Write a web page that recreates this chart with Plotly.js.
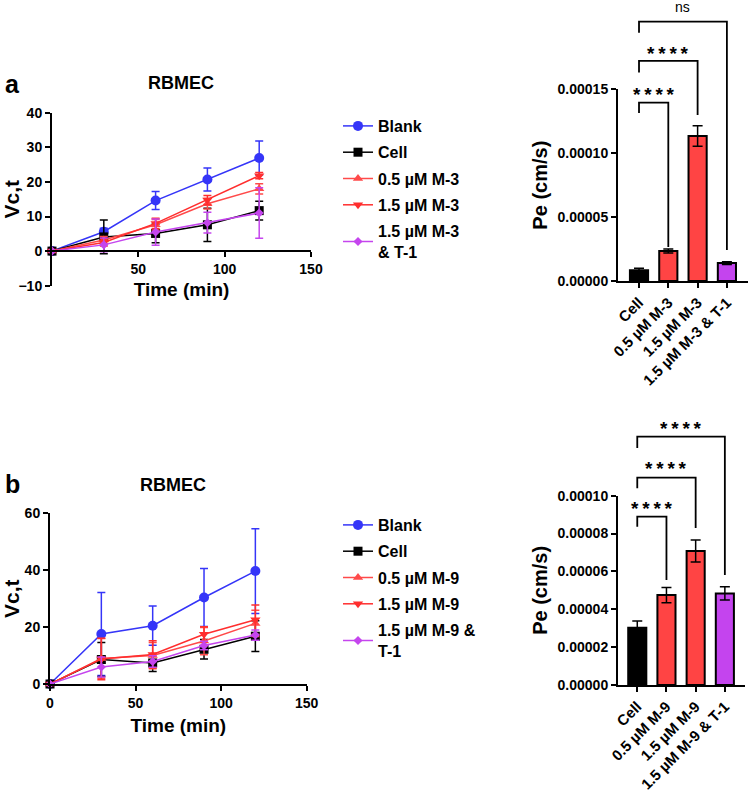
<!DOCTYPE html>
<html>
<head>
<meta charset="utf-8">
<script src="https://cdn.plot.ly/plotly-3.0.1.min.js"></script>
<style>html,body{margin:0;padding:0;background:#fff;}#chart{width:753px;height:796px;}</style>
</head>
<body>
<div id="chart"></div>
<script>
// ---------- data ----------
var time = [0, 30, 60, 90, 120];

// panel a (M-3)
var seriesNamesA = ['Blank', 'Cell', '0.5 µM M-3', '1.5 µM M-3', '1.5 µM M-3<br>& T-1'];
var blankA = [0, 5.6, 14.6, 20.7, 26.9];
var blankErrA = [0, 1.0, 2.6, 3.3, 4.9];
var cellA = [0, 4.1, 5.1, 7.6, 11.7];
var cellErrA = [0, 4.9, 2.7, 4.8, 2.7];
var m05A = [0, 3.2, 7.6, 13.7, 18.0];
var m05ErrA = [0, 1.0, 1.5, 1.5, 1.5];
var m15A = [0, 2.5, 8.0, 14.8, 21.8];
var m15ErrA = [0, 1.0, 1.5, 1.3, 0.9];
var t1A = [0, 1.8, 5.5, 8.2, 11.0];
var t1ErrA = [0, 2.0, 3.8, 3.0, 7.3];

// panel b (M-9)
var seriesNamesB = ['Blank', 'Cell', '0.5 µM M-9', '1.5 µM M-9', '1.5 µM M-9 &<br>T-1'];
var blankB = [0, 17.6, 20.5, 30.4, 39.7];
var blankErrB = [0, 14.6, 6.9, 10.2, 14.9];
var cellB = [0, 8.6, 7.4, 12.2, 16.8];
var cellErrB = [0, 6.0, 3.0, 3.4, 5.4];
var m05B = [0, 9.0, 10.0, 15.1, 21.3];
var m05ErrB = [0, 7.0, 4.6, 4.8, 4.6];
var m15B = [0, 8.8, 10.4, 17.5, 22.6];
var m15ErrB = [0, 7.3, 4.8, 2.6, 5.2];
var t1B = [0, 6.0, 7.9, 13.5, 17.2];
var t1ErrB = [0, 3.5, 2.0, 1.5, 1.8];

// bar charts
var barCatsA = ['Cell', '0.5 µM M-3', '1.5 µM M-3', '1.5 µM M-3 & T-1'];
var peA = [0.0000085, 0.0000235, 0.0001135, 0.0000140];
var peErrA = [0.0000015, 0.0000015, 0.0000080, 0.0000010];
var sigA = ['****', '****', 'ns'];

var barCatsB = ['Cell', '0.5 µM M-9', '1.5 µM M-9', '1.5 µM M-9 & T-1'];
var peB = [0.0000303, 0.0000475, 0.0000708, 0.0000484];
var peErrB = [0.0000035, 0.0000040, 0.0000058, 0.0000035];
var sigB = ['****', '****', '****'];

var ticksA_y = [0, 0.00005, 0.00010, 0.00015];
var ticksB_y = [0, 0.00002, 0.00004, 0.00006, 0.00008, 0.00010];

// ---------- styles ----------
var FONT = 'Liberation Sans, Arial, Helvetica, sans-serif';
var BLUE = '#3535f8', BLACK = '#000000', RED1 = '#ff4a4a', RED2 = '#ff2e2e', PURPLE = '#c545ee';
var lineColors = [BLUE, BLACK, RED1, RED2, PURPLE];
var symbols = ['circle', 'square', 'triangle-up', 'triangle-down', 'diamond'];
var msizes = [10, 9, 9, 9, 7];
var barColors = ['#000000', '#ff4444', '#ff4444', '#c444ee'];

function lineTraces(names, ys, errs, xa, ya, legend, gp) {
  return ys.map(function (y, i) {
    return {
      type: 'scatter', mode: 'lines+markers', x: time, y: y, name: names[i],
      xaxis: xa, yaxis: ya, legend: legend, legendgroup: gp + i, cliponaxis: false,
      line: {color: lineColors[i], width: 1.5},
      marker: {color: lineColors[i], symbol: symbols[i], size: msizes[i]},
      error_y: {type: 'data', array: errs[i], visible: true, color: lineColors[i], thickness: 1.5, width: 4}
    };
  });
}

var data = []
  .concat(lineTraces(seriesNamesA, [blankA, cellA, m05A, m15A, t1A],
    [blankErrA, cellErrA, m05ErrA, m15ErrA, t1ErrA], 'x', 'y', 'legend', 'a'))
  .concat(lineTraces(seriesNamesB, [blankB, cellB, m05B, m15B, t1B],
    [blankErrB, cellErrB, m05ErrB, m15ErrB, t1ErrB], 'x3', 'y3', 'legend2', 'b'));

function barTrace(vals, errs, xa, ya) {
  return {
    type: 'bar', x: [0, 1, 2, 3], y: vals, xaxis: xa, yaxis: ya, showlegend: false,
    width: 0.62,
    marker: {color: barColors, line: {color: '#000', width: 2}},
    error_y: {type: 'data', array: errs, visible: true, color: '#000', thickness: 1.5, width: 5}
  };
}
data.push(barTrace(peA, peErrA, 'x2', 'y2'));
data.push(barTrace(peB, peErrB, 'x4', 'y4'));

var tickFont = {family: FONT, size: 14, color: '#000', weight: 700};
var catFont = {family: FONT, size: 15, color: '#000', weight: 700};
function axisBase(extra) {
  var a = {
    showline: true, linecolor: '#000', linewidth: 2, ticks: 'outside', ticklen: 5,
    tickwidth: 2, tickcolor: '#000', showgrid: false, zeroline: false, tickfont: tickFont,
    fixedrange: true
  };
  for (var k in extra) a[k] = extra[k];
  return a;
}
function titleObj(t, size, standoff) {
  return {text: t, font: {family: FONT, size: size, color: '#000', weight: 700}, standoff: standoff};
}

// ---------- significance brackets (layout positions in y-domain units) ----------
var bracketsA = [
  {x0: 0, x1: 1, top: 0.930, l: 0.876, r: 0.177, ty: 0.972, tsize: 19},
  {x0: 0, x1: 2, top: 1.148, l: 1.087, r: 0.866, ty: 1.187, tsize: 19},
  {x0: 0, x1: 3, top: 1.353, l: 1.295, r: 0.162, ty: 1.428, tsize: 14}
];
var bracketsB = [
  {x0: 0, x1: 1, top: 0.889, l: 0.836, r: 0.555, ty: 0.932, tsize: 19},
  {x0: 0, x1: 2, top: 1.095, l: 1.040, r: 0.829, ty: 1.142, tsize: 19},
  {x0: 0, x1: 3, top: 1.312, l: 1.252, r: 0.581, ty: 1.357, tsize: 19}
];
var shapes = [], annotations = [];
function addBrackets(list, labels, xref, yref) {
  list.forEach(function (b, i) {
    shapes.push({type: 'path', xref: xref, yref: yref,
      path: 'M' + b.x0 + ',' + b.l + ' L' + b.x0 + ',' + b.top + ' L' + b.x1 + ',' + b.top + ' L' + b.x1 + ',' + b.r,
      line: {color: '#000', width: 1.8}});
    var isNs = labels[i] === 'ns';
    annotations.push({xref: xref, yref: yref, x: (b.x0 + b.x1) / 2, y: b.ty,
      text: isNs ? 'ns' : labels[i].split('').join('\u2009'), showarrow: false,
      xanchor: 'center', yanchor: 'middle',
      font: {family: FONT, size: b.tsize, color: '#000', weight: isNs ? 400 : 700}});
  });
}
addBrackets(bracketsA, sigA, 'x2', 'y2 domain');
addBrackets(bracketsB, sigB, 'x4', 'y4 domain');

function textAnn(t, x, y, size) {
  annotations.push({xref: 'paper', yref: 'paper', x: x / 753, y: 1 - y / 796, text: t,
    showarrow: false, xanchor: 'center', yanchor: 'middle',
    font: {family: FONT, size: size, color: '#000', weight: 700}});
}
textAnn('a', 13, 84, 25);
textAnn('RBMEC', 181, 83, 18);
textAnn('b', 13, 484, 25);
textAnn('RBMEC', 173, 485, 18);

var legendBase = {
  font: {family: FONT, size: 16, color: '#000', weight: 700},
  bgcolor: 'rgba(0,0,0,0)', xanchor: 'left', yanchor: 'top', itemwidth: 30,
  tracegroupgap: 2.5, itemclick: false, itemdoubleclick: false
};
function legendAt(x, y) {
  var l = {}; for (var k in legendBase) l[k] = legendBase[k];
  l.x = x / 753; l.y = 1 - y / 796; return l;
}

var layout = {
  width: 753, height: 796, margin: {l: 0, r: 0, t: 0, b: 0},
  paper_bgcolor: '#fff', plot_bgcolor: 'rgba(0,0,0,0)',
  font: {family: FONT, color: '#000'},
  showlegend: true,
  legend: legendAt(338, 109),
  legend2: legendAt(338, 508),
  xaxis: axisBase({domain: [52 / 753, 311 / 753], range: [0, 150], anchor: 'free',
    position: 1 - 251 / 796, tickvals: [50, 100, 150], title: titleObj('Time (min)', 19, 6)}),
  yaxis: axisBase({domain: [1 - 285.7 / 796, 1 - 112.7 / 796], range: [-10, 40], dtick: 10,
    tick0: 0, anchor: 'x', title: titleObj('Vc,t', 21, 8)}),
  xaxis2: axisBase({domain: [618 / 753, 748 / 753], range: [-0.717, 3.72], anchor: 'y2',
    tickvals: [0, 1, 2, 3], ticktext: barCatsA, tickangle: -45, tickfont: catFont}),
  yaxis2: axisBase({domain: [1 - 281 / 796, 1 - 89.3 / 796], range: [0, 0.00015],
    tickvals: ticksA_y, tickformat: '.5f', anchor: 'x2', title: titleObj('Pe (cm/s)', 20, 5)}),
  xaxis3: axisBase({domain: [50 / 753, 306.7 / 753], range: [0, 150], anchor: 'y3',
    tickvals: [0, 50, 100, 150], title: titleObj('Time (min)', 19, 9)}),
  yaxis3: axisBase({domain: [1 - 684 / 796, 1 - 513.3 / 796], range: [0, 60], dtick: 20,
    anchor: 'x3', title: titleObj('Vc,t', 21, 8)}),
  xaxis4: axisBase({domain: [618 / 753, 745 / 753], range: [-0.66, 3.69], anchor: 'y4',
    tickvals: [0, 1, 2, 3], ticktext: barCatsB, tickangle: -45, tickfont: catFont}),
  yaxis4: axisBase({domain: [1 - 685 / 796, 1 - 495.7 / 796], range: [0, 0.0001],
    tickvals: ticksB_y, tickformat: '.5f', anchor: 'x4', title: titleObj('Pe (cm/s)', 20, 5)}),
  shapes: shapes,
  annotations: annotations
};

Plotly.newPlot('chart', data, layout, {displayModeBar: false, staticPlot: true});
</script>
</body>
</html>
